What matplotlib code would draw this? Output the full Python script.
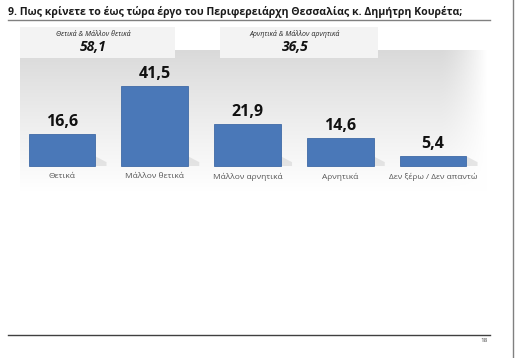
import numpy as np
import matplotlib.pyplot as plt
from matplotlib.patches import Rectangle, Polygon

categories = ['Θετικά', 'Μάλλον θετικά', 'Μάλλον αρνητικά', 'Αρνητικά', 'Δεν ξέρω / Δεν απαντώ']
values = [16.6, 41.5, 21.9, 14.6, 5.4]
summary_labels = ['Θετικά & Μάλλον θετικά', 'Αρνητικά & Μάλλον αρνητικά']
summary_values = [58.1, 36.5]
title = '9. Πως κρίνετε το έως τώρα έργο του Περιφερειάρχη Θεσσαλίας κ. Δημήτρη Κουρέτα;'
page_no = '18'

W, H = 516, 358
plt.rcParams['font.family'] = ['Open Sans', 'DejaVu Sans']

fig = plt.figure(figsize=(W / 100, H / 100), dpi=100)
fig.patch.set_facecolor('white')


def fx(px):
    return px / W


def fy(py):
    return 1 - py / H


# title + rules
fig.text(fx(8), fy(12), title, fontsize=7.55, fontweight='bold', color='#1a1a1a', va='center', ha='left')
fig.add_artist(plt.Line2D([fx(8), fx(490)], [fy(20), fy(20)], color='#808080', lw=1))
fig.add_artist(plt.Line2D([fx(8), fx(490)], [fy(335), fy(335)], color='#404040', lw=1))
fig.add_artist(plt.Line2D([fx(513), fx(513)], [0, 1], color='#808080', lw=1))
fig.text(fx(488), fy(341), page_no, fontsize=4.5, color='#404040', ha='right', va='center')

# gradient background panel
bg = fig.add_axes([fx(20), fy(192), fx(468), (192 - 50) / H])
ny, nx = 100, 200
v = np.linspace(0, 1, ny)[:, None]
shade = 0.85 + 0.15 * v ** 0.9
h = np.linspace(0, 1, nx)[None, :]
fade = np.clip((h - 0.9) / 0.1, 0, 1) ** 1.5
img = shade + (1 - shade) * fade
bg.imshow(np.dstack([img, img, img]), aspect='auto', extent=[0, 1, 0, 1], origin='upper')
bg.set_axis_off()

# summary boxes
box_x = [(20, 175), (220, 378)]
for (x0, x1), lab, val in zip(box_x, summary_labels, summary_values):
    fig.add_artist(Rectangle((fx(x0), fy(58)), fx(x1 - x0), (58 - 27) / H,
                             transform=fig.transFigure, facecolor='#f3f3f3', edgecolor='none'))
    xc = fx((x0 + x1) / 2 - 4)
    fig.text(xc, fy(34), lab, fontsize=5, fontstyle='italic', color='#222222', ha='center', va='center')
    fig.text(xc, fy(47), f'{val:.1f}'.replace('.', ','), fontsize=10, fontstyle='italic',
             fontweight='bold', color='#111111', ha='center', va='center')

# bars
ax = fig.add_axes([fx(20), fy(185), fx(465), (185 - 25) / H])
ax.patch.set_alpha(0)
scale = 1.93  # px per unit
ax.set_ylim(-(185 - 166) / scale, (166 - 25) / scale)
ax.set_xlim(-42 / 92.75, 4 + 52 / 92.75)
x = np.arange(len(values))
bw = 0.72
bars = ax.bar(x, values, width=bw, color='#4a78b8', edgecolor='#3f6aa6', linewidth=0.6, zorder=3)
for xi, val in zip(x, values):
    r = xi + bw / 2
    sh = min(val, 5)
    ax.add_patch(Polygon([(r, 0), (r + 0.12, 0.0), (r + 0.12, sh * 0.4), (r, sh)],
                         closed=True, facecolor='#cfcfcf', edgecolor='none', alpha=0.5, zorder=2))
    ax.text(xi, val + 1.8, f'{val:.1f}'.replace('.', ','), ha='center', va='bottom',
            fontsize=11.5, fontweight='bold', color='#111111')
    ax.text(xi, -5.6, categories[xi], ha='center', va='center', fontsize=6, color='#555555')
ax.set_axis_off()

fig.savefig('out.png', dpi=100)
